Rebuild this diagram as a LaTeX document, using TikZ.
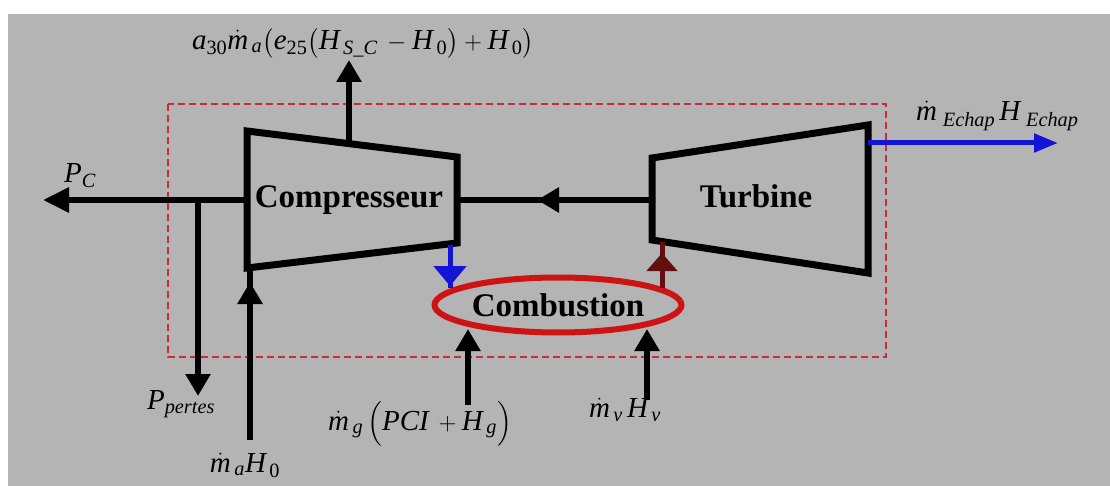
\documentclass[tikz,border=0pt]{standalone}
\usepackage{fontspec}
\usepackage{amsmath}
\setmainfont{Liberation Serif}
\usetikzlibrary{arrows.meta,shapes.geometric}
\definecolor{bggray}{RGB}{180,180,180}
\definecolor{dashred}{RGB}{205,40,60}
\definecolor{ellred}{RGB}{205,20,20}
\definecolor{flowblue}{RGB}{20,20,215}
\definecolor{hotred}{RGB}{100,15,15}
\newcommand\vi[1]{\text{\itshape #1}}
\newcommand\vu[1]{\text{#1}}
\begin{document}
\begin{tikzpicture}[x=1pt,y=-1pt,
  flow/.style={line width=6pt},
  tipbig/.style={-{Triangle[length=26pt,width=24pt]}},
  tipmid/.style={-{Triangle[length=22pt,width=24pt]}},
  machine/.style={line width=7pt, line join=miter},
  lbl/.style={font=\fontsize{33}{36}\selectfont\bfseries, inner sep=0pt},
  mlbl/.style={font=\fontsize{29}{32}\selectfont, inner sep=0pt},
]
\useasboundingbox (0,0) rectangle (1110,486);
\fill[white] (0,0) rectangle (1110,486);
\fill[bggray] (8,14) rectangle (1110,486);
\begin{scope}
\clip (8,14) rectangle (1110,486);
% system boundary
\draw[dashred, line width=2pt, dash pattern=on 7pt off 4pt] (168,104) rectangle (886,357);

% compressor and turbine
\draw[machine] (247,131) -- (457,157) -- (457,243) -- (247,268) -- cycle;
\node[lbl] (comp) at (349,200) {Compresseur};
\draw[machine] (652,158) -- (868,125) -- (868,273) -- (652,240) -- cycle;
\node[lbl] (turb) at (756,196) {Turbine};

% combustion chamber
\node[draw=ellred, line width=6pt, ellipse, minimum width=247pt, minimum height=55pt, inner sep=0pt,
      font=\fontsize{33}{36}\selectfont\bfseries] (comb) at (558,305) {Combustion};

% named points
\coordinate (cL) at (247,200);
\coordinate (cR) at (457,200);
\coordinate (tL) at (652,200);
\coordinate (pc) at (43,200);
\coordinate (pj) at (198,200);
\coordinate (pp) at (198,396);
\coordinate (cTop) at (349,146);
\coordinate (qOut) at (349,60);
\coordinate (maIn) at (250,440);
\coordinate (cBot) at (250,268);
\coordinate (cBR) at (450,245);
\coordinate (combTopL) at (450,288);
\coordinate (combTopR) at (662,288);
\coordinate (tBL) at (662,242);
\coordinate (mgIn) at (468,405);
\coordinate (mgTip) at (468,329);
\coordinate (mvIn) at (647,400);
\coordinate (mvTip) at (647,329);
\coordinate (tR) at (868,143);
\coordinate (exh) at (1058,143);

% shaft and power
\draw[flow, tipbig] (cL) -- (pc);
\draw[flow] (cR) -- (tL);
\draw[flow, tipmid] (575,200) -- (537,200);
\draw[flow, tipmid] (pj) -- (pp);

% heat out of compressor (top)
\draw[flow, tipmid] (cTop) -- (qOut);

% air in
\draw[flow] (maIn) -- (cBot);
\draw[flow, tipmid] (250,305) -- (250,282);

% compressed air to combustion
\draw[flowblue, line width=5pt] (cBR) -- (combTopL);
\draw[flowblue, line width=5pt, -{Triangle[length=20pt,width=32pt]}] (450,262) -- (450,286);

% hot gas to turbine
\draw[hotred, line width=5pt] (combTopR) -- (tBL);
\draw[hotred, line width=5pt, -{Triangle[length=18pt,width=30pt]}] (662,272) -- (662,253);

% fuel and steam in
\draw[flow, tipmid] (mgIn) -- (mgTip);
\draw[flow, tipmid] (mvIn) -- (mvTip);

% exhaust
\draw[flowblue, line width=5pt, -{Triangle[length=24pt,width=18pt]}] (tR) -- (exh);

% labels
\node[mlbl] (lq) at (363,43) {$\vi{a}_{\vu{30}}\dot{\vi{m}}_{\,\vi{a}}\bigl(\vi{e}_{\vu{25}}\bigl(\vi{H}_{\,\vi{S\_C}}\,-\vi{H}_{\,\vu{0}}\bigr)+\vi{H}_{\,\vu{0}}\bigr)$};
\node[mlbl] (lpc) at (80,176) {$\vi{P}_{\vi{C}}$};
\node[mlbl] (lpp) at (181,404) {$\vi{P}_{\vi{pertes}}$};
\node[mlbl] (lma) at (245,465) {$\dot{\vi{m}}_{\,\vi{a}}\vi{H}_{\,\vu{0}}$};
\node[mlbl] (lmg) at (420,424) {$\dot{\vi{m}}_{\,\vi{g}}\,\Bigl(\vi{PCI}\,+\vi{H}_{\,\vi{g}}\Bigr)$};
\node[mlbl] (lmv) at (625,410) {$\dot{\vi{m}}_{\,\vi{v}}\,\vi{H}_{\,\vi{v}}$};
\node[mlbl, anchor=west] (lex) at (916,116) {$\dot{\vi{m}}_{\;\vi{Echap}}\,\vi{H}_{\;\vi{Echap}}$};
\end{scope}
\end{tikzpicture}
\end{document}
